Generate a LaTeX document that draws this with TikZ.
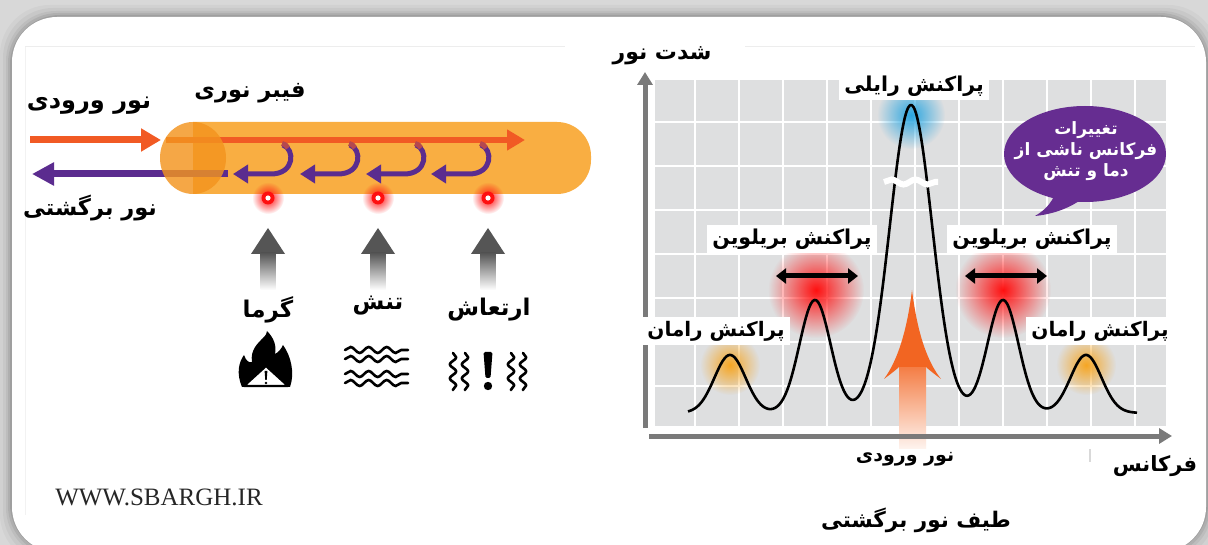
\documentclass[tikz,border=0pt]{standalone}
\usepackage{fontspec}
\usetikzlibrary{arrows.meta,decorations.pathmorphing,fadings,calc}
\setmainfont{Liberation Serif}
\newfontfamily\farsifont[Script=Arabic]{DejaVu Sans}
\TeXXeTstate=1
\newcommand{\fatxt}[1]{\beginR #1\endR}
\newcommand{\fasize}[1]{\farsifont\bfseries\fontsize{#1}{#1}\selectfont}

\definecolor{frameg}{HTML}{D8D8D8}
\definecolor{orangeA}{HTML}{F15A24}
\definecolor{purpleA}{HTML}{5B2C8F}
\definecolor{fiberbody}{HTML}{F9AE42}
\definecolor{fiberface}{HTML}{F3941E}
\definecolor{grayarrow}{HTML}{555555}
\definecolor{gridgray}{HTML}{DEDFE0}
\definecolor{axisgray}{HTML}{7A7A7A}
\definecolor{bubblepurple}{HTML}{662D91}
\definecolor{glowblue}{HTML}{2AA6E0}
\definecolor{glowred}{HTML}{FF1010}
\definecolor{gloworange}{HTML}{F6A623}
\definecolor{chartorange}{HTML}{F26522}

\tikzfading[name=glowfade, inner color=transparent!0, outer color=transparent!100]

\tikzset{
  falabel/.style={font=\fasize{22.5}, inner sep=0pt, text=black},
  chartlabel/.style={fill=white, inner xsep=5pt, inner ysep=4pt, text=black},
  inarrow/.style={draw=orangeA, line width=7pt, -{Triangle[length=20pt,width=22pt]}},
  backarrow/.style={draw=purpleA, line width=7pt, -{Triangle[length=22pt,width=22pt]}},
  corearrow/.style={draw=orangeA, line width=6pt, -{Triangle[length=18pt,width=20pt]}},
  hookarrow/.style={draw=purpleA, line width=5pt, -{Triangle[length=15pt,width=18pt]}},
  axisarrow/.style={draw=axisgray, line width=5pt, -{Triangle[length=13pt,width=15pt]}},
  dblarrow/.style={draw=black, line width=5pt, {Triangle[length=10pt,width=15pt]}-{Triangle[length=10pt,width=15pt]}},
  spectrum/.style={draw=black, line width=2.6pt, line join=round},
  glow/.style={path fading=glowfade},
  iconline/.style={draw=black, line width=2.6pt, line cap=round},
  declare function={
    gs(\t,\c,\w)=exp(-min(((\t-\c)/\w)^2,9));
    spec(\t)=413-58*gs(\t,730,22)-113*gs(\t,815,22)-308*gs(\t,911,30)-113*gs(\t,1003,22)-58*gs(\t,1086,22);
  }
}

\begin{document}
\begin{tikzpicture}[x=1pt,y=-1pt]
\useasboundingbox (0,0) rectangle (1208,545);

% ---------- page frame with soft shadow ----------
\fill[frameg] (0,0) rectangle (1208,545);
\foreach \d/\op in {12/0.03,9/0.04,6/0.05,4/0.07,2/0.09}
  \fill[black, opacity=\op, rounded corners=50] (12-\d,17-\d) rectangle (1206+\d,552+\d);
\fill[white, rounded corners=45] (12,17) rectangle (1206,552);
\draw[black!7, line width=1pt] (25,47) -- (565,47);
\draw[black!7, line width=1pt] (745,47) -- (1195,47);
\draw[black!5, line width=1pt] (25,47) -- (25,515);

% ---------- optical fibre ----------
\node[falabel] (fiberlbl) at (250,93) {\fatxt{فیبر نوری}};
\node[falabel, font=\fasize{24}] (inlbl) at (89,106) {\fatxt{نور ورودی}};
\node[falabel] (backlbl) at (90,208) {\fatxt{نور برگشتی}};

\fill[fiberbody] (193,122) [rounded corners=34] -- (591,122) -- (591,194) [sharp corners] -- (193,194) -- cycle;

\coordinate (inA) at (30,140);
\coordinate (inB) at (161,140);
\coordinate (coreA) at (166,140);
\coordinate (coreB) at (525,140);
\coordinate (backA) at (228,174);
\coordinate (backB) at (32,174);

\draw[corearrow] (coreA) -- (coreB);
\draw[backarrow] (backA) -- (backB);
\foreach \x in {283,350,416,481}{
  \draw[hookarrow] (\x,145) .. controls (\x+12,149) and (\x+12,174) .. (\x-12,174) -- (\x-50,174);
  \draw[draw=orangeA!60!purpleA, line width=5pt] (\x-1,143.5) .. controls (\x+3,145) .. (\x+5,148);
}
\fill[fiberface, fill opacity=0.82] (193,158) ellipse (33 and 36);
\draw[inarrow] (inA) -- (inB);

% ---------- scattering points and their causes ----------
\foreach \x/\n in {268/heat,378/strain,488/vib}{
  \fill[glowred, glow] (\x,198) circle (16);
  \fill[glowred] (\x,198) circle (6.5);
  \fill[white] (\x,198) circle (2.6);
  \coordinate (dot\n) at (\x,198);
  \fill[grayarrow] (\x,228) -- (\x+17,254) -- (\x-17,254) -- cycle;
  \shade[top color=grayarrow, bottom color=white] (\x-7.5,253) rectangle (\x+7.5,290);
}
\node[falabel, font=\fasize{23}] (heatlbl) at (268,310) {\fatxt{گرما}};
\node[falabel, font=\fasize{23}] (strainlbl) at (378,306) {\fatxt{تنش}};
\node[falabel, font=\fasize{23}] (viblbl) at (489,310) {\fatxt{ارتعاش}};

% fire with warning sign
\fill[black] (242,387) .. controls (236,373) and (239,362) .. (244,355)
  .. controls (246,361) and (249,363) .. (252,362)
  .. controls (250,350) and (258,343) .. (263,338)
  .. controls (266,335) and (267,333) .. (267,331)
  .. controls (273,337) and (277,345) .. (275,354)
  .. controls (279,352) and (281,349) .. (283,345)
  .. controls (291,356) and (295,373) .. (290,387) -- cycle;
\filldraw[fill=white, draw=black, line width=2.2pt, line join=round] (266,366) -- (288,386) -- (244,386) -- cycle;
\fill[black] (264.6,371) -- (267.4,371) -- (266.7,380) -- (265.3,380) -- cycle;
\fill[black] (266,383) circle (1.4);

% wavy lines
\foreach \y in {350,359,374,383}
  \draw[iconline, decorate, decoration={snake, amplitude=3pt, segment length=18pt}] (345,\y) -- (408,\y);

% vibration
\foreach \x in {453,465,511,523}
  \draw[line width=2.6pt, line join=round, line cap=round, decorate, decoration={snake, amplitude=3.2pt, segment length=14pt}] (\x,353) -- (\x,390);
\fill[black, rounded corners=1.5pt] (483.5,352) -- (492.5,352) -- (490.5,378) -- (485.5,378) -- cycle;
\fill[black] (488,386) circle (4.2);

% ---------- spectrum chart ----------
\fill[gridgray] (655,80) rectangle (1166,426);
\foreach \x in {695,739,...,1140} \draw[white, line width=2pt] (\x,80) -- (\x,426);
\foreach \y in {122,166,...,420} \draw[white, line width=2pt] (655,\y) -- (1166,\y);

% incoming light marker
\shade[top color=chartorange!85, bottom color=chartorange!8] (899,366) rectangle (926,448);

\coordinate (yaxA) at (645,428);
\coordinate (yaxB) at (645,72);
\coordinate (xaxA) at (649,436);
\coordinate (xaxB) at (1172,436);
\draw[axisarrow] (yaxA) -- (yaxB);
\draw[axisarrow] (xaxA) -- (xaxB);
\draw[black!15, line width=1.5pt] (1090,449) -- (1090,462);

\fill[chartorange] (912,290) .. controls (917,330) and (926,360) .. (941,379)
  .. controls (933,373) and (928,369) .. (926,367) -- (899,367)
  .. controls (897,369) and (892,373) .. (884,379)
  .. controls (898,360) and (907,330) .. (912,290) -- cycle;

% glows
\fill[glowblue, glow] (911,115) circle (34);
\fill[glowred, glow] (816,290) circle (48);
\fill[glowred, glow] (1003,290) circle (48);
\fill[gloworange, glow] (730,365) circle (30);
\fill[gloworange, glow] (1086,365) circle (30);

\draw[spectrum] plot[domain=688:1137, samples=260, smooth] (\x,{spec(\x)});
\draw[white, line width=6pt, decorate, decoration={snake, amplitude=2.5pt, segment length=24pt}] (884,182) -- (938,182);

\coordinate (brlA) at (776,276);
\coordinate (brlB) at (858,276);
\coordinate (brrA) at (965,276);
\coordinate (brrB) at (1047,276);
\draw[dblarrow] (brlA) -- (brlB);
\draw[dblarrow] (brrA) -- (brrB);

\node[chartlabel, font=\fasize{20.5}] (rayl) at (914,86) {\fatxt{پراکنش رایلی}};
\node[chartlabel, font=\fasize{20.5}] (brill) at (792,239) {\fatxt{پراکنش بریلوین}};
\node[chartlabel, font=\fasize{20.5}] (brilr) at (1032,239) {\fatxt{پراکنش بریلوین}};
\node[chartlabel, font=\fasize{20}] (raml) at (716,331) {\fatxt{پراکنش رامان}};
\node[chartlabel, font=\fasize{20}] (ramr) at (1100,331) {\fatxt{پراکنش رامان}};

% speech bubble
\fill[bubblepurple] (1085,154) ellipse (81 and 48);
\fill[bubblepurple] (1056,192) .. controls (1051,204) and (1045,210) .. (1035,216)
  .. controls (1055,214) and (1071,207) .. (1082,199) -- cycle;
\node[font=\farsifont\bfseries\fontsize{17}{21}\selectfont, text=white, align=center, inner sep=0pt] (bubtxt) at (1086,151)
  {\fatxt{تغییرات}\\ \fatxt{فرکانس ناشی از}\\ \fatxt{دما و تنش}};

% axis titles
\node[falabel, font=\fasize{22}] (ytitle) at (662,56) {\fatxt{شدت نور}};
\node[falabel, font=\fasize{21}] (xtitle) at (1155,466) {\fatxt{فرکانس}};
\node[falabel, font=\fasize{19}] (inmark) at (905,459) {\fatxt{نور ورودی}};
\node[falabel, font=\fasize{21.5}] (title) at (916,520) {\fatxt{طیف نور برگشتی}};

\node[font=\fontsize{25}{28}\selectfont, text=black!85, inner sep=0pt] (site) at (159,497) {WWW.SBARGH.IR};
\end{tikzpicture}
\end{document}
